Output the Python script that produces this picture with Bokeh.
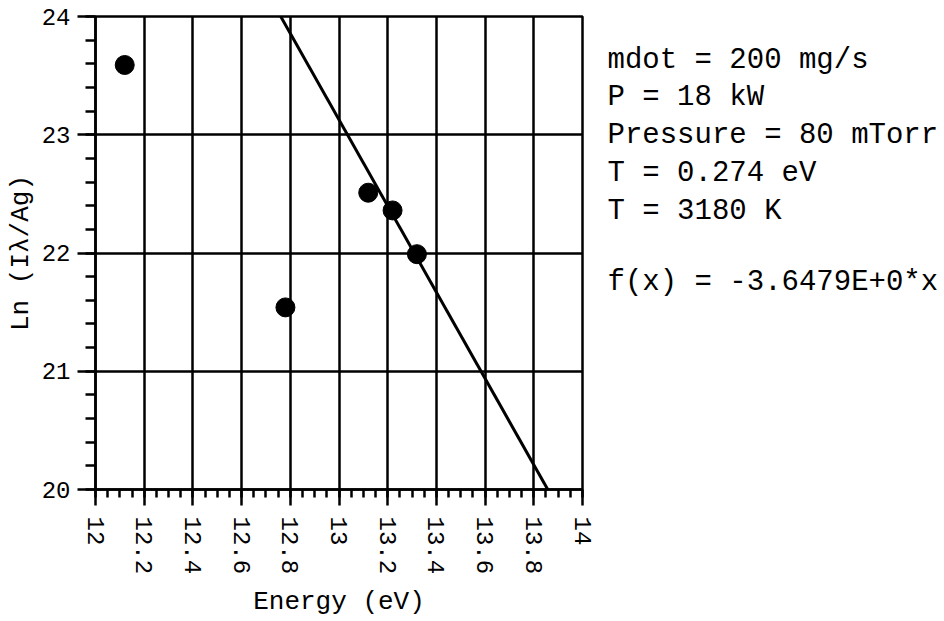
from bokeh.plotting import figure
from bokeh.models import FixedTicker, NumeralTickFormatter, Range1d
from bokeh.layouts import row
from bokeh.core.properties import value
from bokeh.embed import file_html
from bokeh.resources import INLINE
import numpy as np

# ---- data ----
energy_ev = [12.12, 12.78, 13.12, 13.22, 13.32]
ln_i_over_ag = [23.59, 21.54, 22.51, 22.36, 21.99]

fit_slope = -3.6479
fit_intercept = 70.55

x_ticks = [12.0, 12.2, 12.4, 12.6, 12.8, 13.0, 13.2, 13.4, 13.6, 13.8, 14.0]
y_ticks = [20, 21, 22, 23, 24]

notes = ["mdot = 200 mg/s", "P = 18 kW", "Pressure = 80 mTorr",
         "T = 0.274 eV", "T = 3180 K", "f(x) = -3.6479E+0*x"]

FONT = "Liberation Mono"
H = 620
TOP = 16
BOTTOM = 490

p = figure(width=600, height=H,
           x_range=Range1d(12, 14), y_range=Range1d(20, 24),
           output_backend="svg", toolbar_location=None,
           min_border_left=95, min_border_right=18,
           min_border_top=TOP, min_border_bottom=H - BOTTOM)

p.background_fill_color = "white"
p.border_fill_color = "white"
p.outline_line_color = "black"
p.outline_line_width = 2.5

x_minor = [round(v, 3) for v in np.arange(12.0, 14.0001, 0.05)]
y_minor = [round(v, 3) for v in np.arange(20.0, 24.0001, 0.2)]
p.xaxis.ticker = FixedTicker(ticks=x_ticks, minor_ticks=x_minor)
p.yaxis.ticker = FixedTicker(ticks=y_ticks, minor_ticks=y_minor)
p.xaxis.formatter = NumeralTickFormatter(format="0.[0]")

for ax in (p.xaxis[0], p.yaxis[0]):
    ax.axis_line_color = "black"
    ax.axis_line_width = 2.5
    ax.major_tick_line_color = "black"
    ax.major_tick_line_width = 2.5
    ax.minor_tick_line_color = "black"
    ax.minor_tick_line_width = 2.5
    ax.major_tick_in = 0
    ax.minor_tick_in = 0
    ax.major_label_text_font = FONT
    ax.major_label_text_font_size = "24px"
    ax.major_label_text_color = "black"
    ax.axis_label_text_font = FONT
    ax.axis_label_text_font_size = "26px"
    ax.axis_label_text_font_style = "normal"
    ax.axis_label_text_color = "black"

p.xaxis.major_tick_out = 16
p.xaxis.minor_tick_out = 8
p.xaxis.major_label_standoff = 11
p.xaxis.major_label_orientation = "vertical"
p.xaxis.axis_label = "Energy (eV)"
p.xaxis.axis_label_standoff = 10

p.yaxis.major_tick_out = 18
p.yaxis.minor_tick_out = 10
p.yaxis.major_label_standoff = 7
p.yaxis.axis_label = "Ln (I\u03bb/Ag)"
p.yaxis.axis_label_standoff = 3

p.xgrid.grid_line_color = "black"
p.xgrid.grid_line_width = 2.5
p.ygrid.grid_line_color = "black"
p.ygrid.grid_line_width = 2.5

# fit line over the whole range (clipped by the frame)
fx = [12.0, 14.0]
fy = [fit_slope * v + fit_intercept for v in fx]
p.line(fx, fy, line_color="black", line_width=3)

p.scatter(energy_ev, ln_i_over_ag, size=19, marker="circle",
          fill_color="black", line_color="black")

# ---- text panel to the right (page-pixel coordinates, y downwards) ----
QW = 342
q = figure(width=QW, height=H,
           x_range=Range1d(600, 600 + QW), y_range=Range1d(BOTTOM, TOP),
           output_backend="svg", toolbar_location=None,
           x_axis_location=None, y_axis_location=None,
           min_border_left=0, min_border_right=0,
           min_border_top=TOP, min_border_bottom=H - BOTTOM)
q.outline_line_color = None
q.grid.visible = False
q.background_fill_color = "white"
q.border_fill_color = "white"

note_rows = [60, 97, 135, 173, 211, 283]
q.text(x=[607] * len(notes), y=note_rows, text=notes,
       text_font=value(FONT), text_font_size="29px", text_color="black",
       text_baseline="middle", text_align="left")

layout = row(p, q)
open("out.html", "w").write(file_html(layout, INLINE))
